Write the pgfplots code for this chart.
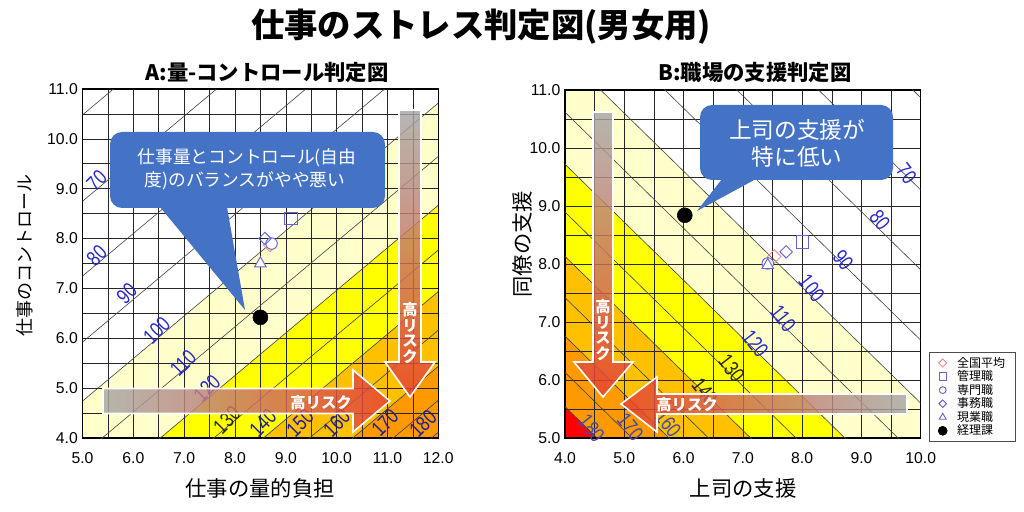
\documentclass[border=0pt]{standalone}
\usepackage{fontspec}
\setmainfont{Liberation Sans}
\newfontfamily\jp{Noto Sans CJK JP}
\usepackage{pgfplots}
\pgfplotsset{compat=1.18}
\definecolor{ly}{HTML}{FFFFCC}
\definecolor{yy}{HTML}{FFFF00}
\definecolor{oa}{HTML}{FFC000}
\definecolor{ob}{HTML}{FF9900}
\definecolor{rr}{HTML}{FF0000}
\definecolor{mblue}{HTML}{6464D8}
\definecolor{mpink}{HTML}{F09090}
\definecolor{lblue}{HTML}{2828C8}
\definecolor{lnavy}{HTML}{1E1E96}
\definecolor{lpurp}{HTML}{4848A8}
\definecolor{cblue}{HTML}{4472C4}
\definecolor{argray}{HTML}{A6A6A6}
\definecolor{arred}{HTML}{E8402F}
\pgfplotsset{
  stressaxis/.style={
    set layers, clip mode=individual,
    scale only axis, anchor=south west,
    grid=both,
    major grid style={black!85, line width=0.45pt},
    minor grid style={black!85, line width=0.45pt},
    major tick length=0pt, minor tick length=0pt,
    axis line style={black, line width=1.1pt},
    tick label style={font=\fontsize{11.8}{13}\selectfont},
    /pgf/number format/fixed, /pgf/number format/fixed zerofill,
    /pgf/number format/precision=1, /pgf/number format/assume math mode=true,
    xticklabel style={yshift=-7pt},
  },
  bgfill/.style={forget plot, on layer=axis background, draw=none, fill=#1},
  cline/.style={forget plot, draw=black!75, line width=0.45pt, no marks},
  mkavg/.style={only marks, color=mpink, mark=square, mark size=3.6pt, mark options={rotate=45, draw=mpink, fill=white, line width=0.7pt}},
  mkkanri/.style={only marks, color=mblue, mark=square, mark size=4.6pt, mark options={draw=mblue, fill=white, line width=0.7pt}},
  mksenmon/.style={only marks, color=mblue, mark=*, mark size=4.3pt, mark options={draw=mblue, fill=white, line width=0.7pt}},
  mkjimu/.style={only marks, color=mblue, mark=square, mark size=3.3pt, mark options={rotate=45, draw=mblue, fill=white, line width=0.7pt}},
  mkgengyo/.style={only marks, color=mblue, mark=triangle*, mark size=5pt, mark options={draw=mblue, fill=white, line width=0.7pt}},
  mkkeiri/.style={only marks, color=black, mark=*, mark size=5.6pt, mark options={draw=black, fill=black}},
}
\tikzset{
  clabA/.style={font=\fontsize{16}{17}\selectfont, rotate=45, xscale=0.78, inner sep=0pt},
  clabB/.style={font=\fontsize{16}{17}\selectfont, rotate=-52, xscale=0.78, inner sep=0pt},
}
\begin{document}
\begin{tikzpicture}

%%%%%%%%%%%%%%%% Panel A
\begin{axis}[stressaxis, at={(61.875pt,54.75pt)}, width=266.85pt, height=261.75pt,
  xmin=5, xmax=12, ymin=4, ymax=11,
  xtick={5,6,7,8,9,10,11,12}, ytick={4,5,6,7,8,9,10,11},
  minor xtick={5.5,6.5,7.5,8.5,9.5,10.5,11.5}, minor ytick={4.5,5.5,6.5,7.5,8.5,9.5,10.5}]
  % risk bands
  \addplot[bgfill=ly] coordinates {(4,3.8865) (13,11.5719) (13,-10) (4,-10)};
  \addplot[bgfill=yy] coordinates {(4,1.8380) (13,9.5234) (13,-10) (4,-10)};
  \addplot[bgfill=oa] coordinates {(4,0.1059) (13,7.7913) (13,-10) (4,-10)};
  \addplot[bgfill=ob] coordinates {(4,-1.3944) (13,6.2910) (13,-10) (4,-10)};
  % contour lines
  \addplot[cline] coordinates {(4,9.6261) (13,17.3115)};
  \addplot[cline] coordinates {(4,7.8940) (13,15.5794)};
  \addplot[cline] coordinates {(4,6.3937) (13,14.0791)};
  \addplot[cline] coordinates {(4,5.0703) (13,12.7557)};
  \addplot[cline] coordinates {(4,3.8865) (13,11.5719)};
  \addplot[cline] coordinates {(4,2.8156) (13,10.5010)};
  \addplot[cline] coordinates {(4,1.8380) (13,9.5234)};
  \addplot[cline] coordinates {(4,0.9386) (13,8.6240)};
  \addplot[cline] coordinates {(4,0.1059) (13,7.7913)};
  \addplot[cline] coordinates {(4,-0.6693) (13,7.0161)};
  \addplot[cline] coordinates {(4,-1.3944) (13,6.2910)};
  \addplot[cline] coordinates {(4,-2.0756) (13,5.6098)};
  \addplot[cline] coordinates {(4,-2.7179) (13,4.9675)};
  % contour labels
  \node[clabA, text=lblue] at (axis cs:5.28,9.16) {70};
  \node[clabA, text=lblue] at (axis cs:5.28,7.66) {80};
  \node[clabA, text=lblue] at (axis cs:5.87,6.90) {90};
  \node[clabA, text=lblue] at (axis cs:6.46,6.16) {100};
  \node[clabA, text=lblue] at (axis cs:6.98,5.50) {110};
  \node[clabA, text=lblue] at (axis cs:7.45,5.00) {120};
  \node[clabA, text=black!85] at (axis cs:7.84,4.36) {130};
  \node[clabA, text=lnavy] at (axis cs:8.55,4.30) {140};
  \node[clabA, text=lnavy] at (axis cs:9.28,4.30) {150};
  \node[clabA, text=lnavy] at (axis cs:10.0,4.30) {160};
  \node[clabA, text=lnavy] at (axis cs:10.95,4.31) {170};
  \node[clabA, text=lnavy] at (axis cs:11.70,4.29) {180};
  % groups
  \addplot[mkavg] coordinates {(8.69,7.87)};
  \addplot[mkkanri] coordinates {(9.10,8.41)};
  \addplot[mksenmon] coordinates {(8.72,7.90)};
  \addplot[mkjimu] coordinates {(8.59,8.00)};
  \addplot[mkgengyo] coordinates {(8.50,7.50)};
  \addplot[mkkeiri] coordinates {(8.50,6.42)};
\end{axis}

%%%%%%%%%%%%%%%% Panel B
\begin{axis}[stressaxis, at={(423.75pt,54.75pt)}, width=266.8pt, height=261pt,
  xmin=4, xmax=10, ymin=5, ymax=11,
  xtick={4,5,6,7,8,9,10}, ytick={5,6,7,8,9,10,11},
  minor xtick={4.5,5.5,6.5,7.5,8.5,9.5}, minor ytick={5.5,6.5,7.5,8.5,9.5,10.5},
  legend style={at={(1.022,0.247)}, anchor=north west, draw=black!70, line width=0.5pt,
    fill=white, font=\jp\fontsize{9}{9.5}\selectfont, inner xsep=7pt, inner ysep=3pt, row sep=0.3pt,
    nodes={inner sep=0.4pt},
    /tikz/every odd column/.append style={column sep=7pt}},
  legend cell align=left,
  legend image post style={scale=0.6}]
  % risk bands
  \addplot[bgfill=ly] coordinates {(3,12.600) (11,4.600) (11,-10) (3,-10)};
  \addplot[bgfill=yy] coordinates {(3,10.720) (11,2.720) (11,-10) (3,-10)};
  \addplot[bgfill=oa] coordinates {(3,9.131) (11,1.131) (11,-10) (3,-10)};
  \addplot[bgfill=ob] coordinates {(3,7.755) (11,-0.245) (11,-10) (3,-10)};
  \addplot[bgfill=rr] coordinates {(3,6.540) (11,-1.460) (11,-10) (3,-10)};
  % contour lines
  \addplot[cline] coordinates {(3,17.866) (11,9.866)};
  \addplot[cline] coordinates {(3,16.277) (11,8.277)};
  \addplot[cline] coordinates {(3,14.900) (11,6.900)};
  \addplot[cline] coordinates {(3,13.686) (11,5.686)};
  \addplot[cline] coordinates {(3,12.600) (11,4.600)};
  \addplot[cline] coordinates {(3,11.617) (11,3.617)};
  \addplot[cline] coordinates {(3,10.720) (11,2.720)};
  \addplot[cline] coordinates {(3,9.895) (11,1.895)};
  \addplot[cline] coordinates {(3,9.131) (11,1.131)};
  \addplot[cline] coordinates {(3,8.420) (11,0.420)};
  \addplot[cline] coordinates {(3,7.755) (11,-0.245)};
  \addplot[cline] coordinates {(3,7.130) (11,-0.870)};
  \addplot[cline] coordinates {(3,6.540) (11,-1.460)};
  % contour labels
  \node[clabB, text=lblue] at (axis cs:9.76,9.56) {70};
  \node[clabB, text=lblue] at (axis cs:9.31,8.76) {80};
  \node[clabB, text=lblue] at (axis cs:8.69,8.07) {90};
  \node[clabB, text=lblue] at (axis cs:8.16,7.58) {100};
  \node[clabB, text=lblue] at (axis cs:7.68,7.06) {110};
  \node[clabB, text=lblue] at (axis cs:7.21,6.63) {120};
  \node[clabB, text=black!85] at (axis cs:6.81,6.20) {130};
  \node[clabB, text=black!85] at (axis cs:6.36,5.80) {140};
  \node[clabB, text=lpurp] at (axis cs:5.74,5.25) {160};
  \node[clabB, text=lpurp] at (axis cs:5.10,5.19) {170};
  \node[clabB, text=lpurp] at (axis cs:4.45,5.17) {180};
  % groups
  \addplot[mkavg] coordinates {(7.53,8.13)};
  \addlegendentry{全国平均}
  \addplot[mkkanri] coordinates {(8.01,8.38)};
  \addlegendentry{管理職}
  \addplot[mksenmon] coordinates {(7.42,8.01)};
  \addlegendentry{専門職}
  \addplot[mkjimu] coordinates {(7.73,8.21)};
  \addlegendentry{事務職}
  \addplot[mkgengyo] coordinates {(7.42,7.98)};
  \addlegendentry{現業職}
  \addplot[mkkeiri] coordinates {(6.02,8.84)};
  \addlegendentry{経理課}
\end{axis}

%%%%%%%%%%%%%%%% annotations in pixel units
\begin{scope}[x=0.75pt, y=-0.75pt, yshift=383.25pt]
  % titles
  \node[font=\jp\bfseries\fontsize{25}{29}\selectfont] at (481,27) {仕事のストレス判定図(男女用)};
  \node[font=\jp\bfseries\fontsize{16}{19}\selectfont] at (267,72) {A:量-コントロール判定図};
  \node[font=\jp\bfseries\fontsize{16}{19}\selectfont] at (755,72) {B:職場の支援判定図};
  % axis labels
  \node[font=\jp\fontsize{16}{19}\selectfont] at (260,488) {仕事の量的負担};
  \node[font=\jp\fontsize{16}{19}\selectfont] at (743,488) {上司の支援};
  \node[font=\jp\fontsize{13.5}{16}\selectfont, rotate=90] at (25,255) {仕事のコントロール};
  \node[font=\jp\fontsize{16}{19}\selectfont, rotate=90] at (522,244) {同僚の支援};
  % arrows A
  \shadedraw[left color=argray, right color=arred, draw=white, line width=1.2pt, fill opacity=0.82]
    (103,388.5) -- (353,388.5) -- (353,370) -- (390,401) -- (353,432) -- (353,413.5) -- (103,413.5) -- cycle;
  \shadedraw[top color=argray, bottom color=arred, draw=white, line width=1.2pt, fill opacity=0.82]
    (399,110) -- (421,110) -- (421,362) -- (435,362) -- (410,397) -- (385,362) -- (399,362) -- cycle;
  \node[font=\jp\bfseries\fontsize{11.5}{12}\selectfont, text=white] at (321,403) {高リスク};
  \node[font=\jp\bfseries\fontsize{11.5}{11.8}\selectfont, text=white, align=center] at (410,333) {高\\リ\\ス\\ク};
  % arrows B
  \shadedraw[top color=argray, bottom color=arred, draw=white, line width=1.2pt, fill opacity=0.82]
    (593,112) -- (613,112) -- (613,362) -- (633,362) -- (603,397) -- (574,362) -- (593,362) -- cycle;
  \shadedraw[left color=arred, right color=argray, draw=white, line width=1.2pt, fill opacity=0.82]
    (907,394) -- (657,394) -- (657,377) -- (621,404) -- (657,432) -- (657,414) -- (907,414) -- cycle;
  \node[font=\jp\bfseries\fontsize{11.5}{11.8}\selectfont, text=white, align=center] at (603,330) {高\\リ\\ス\\ク};
  \node[font=\jp\bfseries\fontsize{11.5}{12}\selectfont, text=white] at (687,405) {高リスク};
  % callout A
  \fill[cblue, rounded corners=9pt] (110,132) rectangle (385,208);
  \fill[cblue] (160,207) -- (245,310) -- (227,207) -- cycle;
  \node[font=\jp\fontsize{13.3}{15}\selectfont, text=white] at (247,158) {仕事量とコントロール(自由};
  \node[font=\jp\fontsize{13.3}{15}\selectfont, text=white] at (245,181) {度)のバランスがやや悪い};
  % callout B
  \fill[cblue, rounded corners=9pt] (700,105) rectangle (893,180);
  \fill[cblue] (722,179) -- (697,211) -- (756,179) -- cycle;
  \node[font=\jp\fontsize{17}{20}\selectfont, text=white] at (797,130) {上司の支援が};
  \node[font=\jp\fontsize{17}{20}\selectfont, text=white] at (797,157) {特に低い};
\end{scope}
\pgfresetboundingbox
\path[use as bounding box] (0,0) rectangle (768pt,383.25pt);
\end{tikzpicture}
\end{document}
